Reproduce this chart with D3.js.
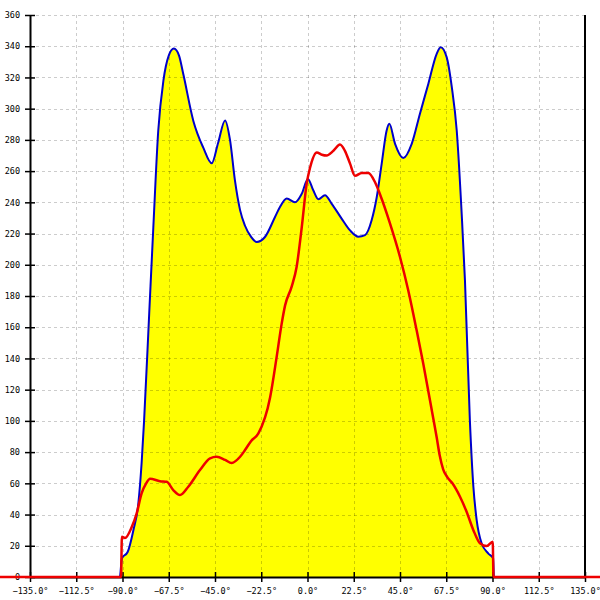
<!DOCTYPE html>
<html>
<head>
<meta charset="utf-8">
<script src="https://cdn.jsdelivr.net/npm/d3@7"></script>
<style>
  html, body { margin: 0; padding: 0; background: #fff; }
  svg { display: block; }
  text { font-family: "DejaVu Sans Mono", monospace; font-size: 8.5px; fill: #000; }
</style>
</head>
<body>
<svg id="chart" width="600" height="600"></svg>
<script>
// ---- data (angle in degrees, value) ----
const xTicks = [-135, -112.5, -90, -67.5, -45, -22.5, 0, 22.5, 45, 67.5, 90, 112.5, 135];
const yTicks = [0, 20, 40, 60, 80, 100, 120, 140, 160, 180, 200, 220, 240, 260, 280, 300, 320, 340, 360];

const blueAngles = [-150, -91.3, -90.3, -87.5, -84.7, -82.3, -80.7, -79.5, -77, -75, -72.6, -70.1, -67.5, -65, -62.5, -60.4, -55.5, -50.7, -46.6, -43.5, -40.1, -37.7, -35.3, -32.8, -30.4, -27.5, -24.7, -20.7, -15.8, -13.4, -10.1, -6.1, -2.8, 0.2, 2.8, 5.3, 8.5, 11.8, 16.6, 20.7, 24.7, 28, 31.2, 33.7, 36.1, 38.5, 39.8, 42.6, 46.6, 50.7, 54.7, 58.8, 62.8, 64.8, 67.7, 70.2, 72.6, 75, 76.6, 79, 80.7, 82.3, 84.7, 88, 90.3, 90.7, 150];
const blueValues = [0, 0, 12, 16, 30, 47, 73, 100, 169, 224, 286, 318, 334, 338.5, 334, 322, 292, 275, 265, 278, 292.5, 280, 254, 235, 225, 218, 214.6, 217.8, 230.6, 237, 242.5, 240, 245.5, 255, 247.7, 242, 244.5, 239, 229.6, 222, 218, 219, 228.5, 243.4, 264.8, 286, 290.3, 277.5, 268.4, 277.5, 296.8, 316, 335, 339.4, 333, 313.8, 286, 232.8, 190, 100, 57.8, 36.5, 21.6, 15, 12, 0, 0];

const redAngles = [-150, -90.7, -90.3, -88.8, -85.5, -83.1, -80.7, -78.5, -76.6, -71.8, -68.5, -65.3, -62, -58, -52.3, -47.4, -44.2, -40.1, -36.9, -32.8, -30.4, -27.5, -23.9, -18.2, -15, -12.6, -10.9, -7.7, -5.3, -2.8, -0.4, 1.2, 4.5, 7, 9.3, 12.6, 15.8, 18.2, 20.7, 23.1, 26.4, 29.6, 32.8, 35.3, 40, 45, 49, 53.1, 56.3, 59.6, 62.8, 64.3, 66, 68, 70.5, 74.2, 77.4, 80.7, 83.9, 87.2, 90.1, 90.5, 150];
const redValues = [0, 0, 25.8, 25, 32, 40.8, 53.6, 60, 63, 61.4, 61, 55.7, 52.5, 57.8, 68.5, 76, 77, 75, 73, 77, 81.3, 87, 92, 115, 141, 162, 174, 186, 198.6, 224, 252, 262, 272, 270.5, 270, 273, 277, 273, 264.8, 257, 258.8, 258.8, 253, 245, 227, 205, 183.7, 158, 136.8, 113, 89.8, 78, 69, 64, 60, 51.4, 41.8, 30, 21.6, 19.8, 22.6, 0, 0];

const blue = blueAngles.map((a, i) => ({ a, v: blueValues[i] }));
const red = redAngles.map((a, i) => ({ a, v: redValues[i] }));

// ---- layout ----
const svg = d3.select("#chart");
const x = d3.scaleLinear().domain([-135, 135]).range([30, 585]);
const y = d3.scaleLinear().domain([0, 360]).range([577, 15]);

// yellow area
const area = d3.area().x(d => x(d.a)).y0(y(0)).y1(d => y(d.v)).curve(d3.curveMonotoneX);
svg.append("path").datum(blue).attr("d", area).attr("fill", "#ffff00").attr("stroke", "none");

// grid
const grid = svg.append("g").attr("stroke", "rgba(0,0,0,0.2)").attr("stroke-dasharray", "3,3").attr("stroke-width", 1);
grid.selectAll("line.h").data(yTicks.filter(v => v > 0)).join("line")
  .attr("class", "h")
  .attr("x1", x(-135)).attr("x2", x(135))
  .attr("y1", d => Math.round(y(d)) + 0.5).attr("y2", d => Math.round(y(d)) + 0.5);
grid.selectAll("line.v").data(xTicks.filter(v => v > -135 && v < 135)).join("line")
  .attr("class", "v")
  .attr("y1", y(360)).attr("y2", y(0))
  .attr("x1", d => Math.round(x(d)) + 0.5).attr("x2", d => Math.round(x(d)) + 0.5);

// axes
const yAxis = d3.axisLeft(y).tickValues(yTicks).tickFormat(d3.format("d")).tickSize(5).tickPadding(5).tickSizeOuter(0);
const gy = svg.append("g").attr("transform", `translate(${x(-135)},0)`).call(yAxis);
gy.select(".domain").attr("stroke", "#000").attr("stroke-width", 2);
gy.selectAll(".tick line").attr("x1", -5).attr("x2", 5).attr("stroke", "#000").attr("stroke-width", 1.5);
gy.selectAll(".tick text").style("font-family", "DejaVu Sans Mono, monospace").style("font-size", "8.5px").attr("fill", "#000");

const xAxis = d3.axisBottom(x).tickValues(xTicks).tickFormat(d => d3.format(".1f")(d) + "°").tickSize(5).tickPadding(6).tickSizeOuter(0);
const gx = svg.append("g").attr("transform", `translate(0,${y(0)})`).call(xAxis);
gx.select(".domain").attr("stroke", "#000").attr("stroke-width", 2);
gx.selectAll(".tick line").attr("y1", -5).attr("y2", 5).attr("stroke", "#000").attr("stroke-width", 1.5);
gx.selectAll(".tick text").style("font-family", "DejaVu Sans Mono, monospace").style("font-size", "8.5px").attr("fill", "#000");

// right border
svg.append("line").attr("x1", x(135)).attr("x2", x(135)).attr("y1", y(360)).attr("y2", y(0))
  .attr("stroke", "#000").attr("stroke-width", 2);

// lines
const line = d3.line().x(d => x(d.a)).y(d => y(d.v)).curve(d3.curveMonotoneX);
svg.append("path").datum(blue).attr("d", line).attr("fill", "none").attr("stroke", "#0000cc").attr("stroke-width", 2);
svg.append("path").datum(red).attr("d", line).attr("fill", "none").attr("stroke", "#ee0000").attr("stroke-width", 2.5);
</script>
</body>
</html>
